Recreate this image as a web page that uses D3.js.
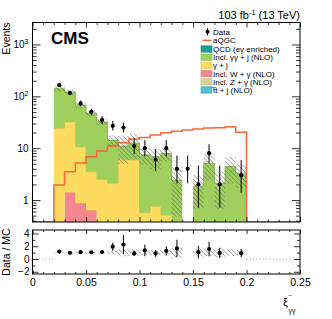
<!DOCTYPE html>
<html>
<head>
<meta charset="utf-8"/>
<script src="https://d3js.org/d3.v7.min.js"></script>
<style>
  body { margin:0; background:#fff; }
  text { font-family: "Liberation Sans", Arial, sans-serif; fill:#000; }
</style>
</head>
<body>
<script>
// bin edges in xi-
var binEdges = [0.02,0.03,0.04,0.05,0.06,0.07,0.08,0.09,0.10,0.11,0.12,0.13,0.14,0.15,0.16,0.17,0.18,0.19,0.20];

// stacked backgrounds (events per bin)
var qcd  = [0.1,0.1,0.1,0.1,0.1,0.1,0.1,0.1,0.1,0.1,0.1,0.1,0,0.1,0.1,0.1,0.1,0.1];
var ttj  = [0,0,0,0,0,0,0,0,0,0,0,0,0,0,0,0,0,0];
var zg   = [0,0,0,0,0,0,0,0,0,0,0,0,0,0,0,0,0,0];
var wg   = [0,1.3,0.77,0.53,0,0,0,0,0,0,0,0,0,0,0,0,0,0];
var gj   = [24,30.7,9.8,2.87,2.4,2.0,5.9,5.8,0.47,0.66,0.41,0,0,0,0,0,0,0];
var gg   = [115.9,87.9,57.3,43.5,29.5,11.9,5.0,6.6,6.83,6.04,7.39,2.3,0,1.76,5.0,2.0,4.3,3.2];
// relative MC uncertainty
var mcUnc = [0.12,0.12,0.12,0.12,0.12,0.25,0.55,0.5,0.35,0.42,0.3,0.8,0,0.63,0.53,0.68,0.53,0.48];

// signal
var aqgc = [1.95,3.5,5.2,6.8,8.8,11,12.7,15,16,18,19.8,21.3,22.3,23.3,24.4,24.7,25.8,20.2];

// data with error bar ends
var dataCounts = [164,116,73,50,35,27,25,11,10,6,10,4,4,2,8,2,0,3];
var dataLo = [151.3,105.4,64.6,43.0,29.2,21.9,20.1,7.7,6.9,3.6,6.9,2.1,2.1,0.71,5.2,0.71,0,1.37];
var dataHi = [178,128,82.6,58.1,41.9,33.3,31.0,15.4,14.3,9.6,14.3,7.2,7.2,4.64,11.9,4.64,0,5.92];
var ratioErr = [0.1,0.1,0.1,0.1,0.1,0.63,1.5,0.42,0.9,0.52,0.73,1.36,0,1.0,1.15,0.8,0,0.63];

var xMajor = [0,0.05,0.1,0.15,0.2,0.25];
var yMajor = [1,10,100,1000];
var rMajor = [-2,0,2,4];
var rMinor = [-1,1,3];

var legendNames = ["Data","aQGC","QCD (e\u03b3 enriched)","Incl. \u03b3\u03b3 + j (NLO)","\u03b3 + j",
                   "Incl. W + \u03b3 (NLO)","Incl. Z + \u03b3 (NLO)","t\u0305t + j (NLO)"];

var keys   = ["qcd","tt","zg","wg","gj","gg"];
var colors = {qcd:"#1d9c90", tt:"#55bfd2", zg:"#d9d193", wg:"#f3868f", gj:"#fddb5e", gg:"#9fcf5c"};
var legendKeys = ["qcd","gg","gj","wg","zg","tt"];

var L = 32.5, R = 300, T1 = 22.5, B1 = 222, T2 = 230, B2 = 274;

var svg = d3.select("body").append("svg").attr("width",332).attr("height",319);

var x  = d3.scaleLinear().domain([0,0.25]).range([L,R]);
var y  = d3.scaleLog().domain([0.377,2650]).range([B1,T1]);
var yr = d3.scaleLinear().domain([-2.35,4.55]).range([B2,T2]);
var yc = function(v){ return y(Math.max(v, y.domain()[0])); };

var defs = svg.append("defs");
defs.append("clipPath").attr("id","clipMain").append("rect")
  .attr("x",L).attr("y",T1).attr("width",R-L).attr("height",B1-T1);
defs.append("clipPath").attr("id","clipRatio").append("rect")
  .attr("x",L).attr("y",T2).attr("width",R-L).attr("height",B2-T2);
var pat = defs.append("pattern").attr("id","hatch").attr("patternUnits","userSpaceOnUse")
  .attr("width",3.2).attr("height",3.2).attr("patternTransform","rotate(-45)");
pat.append("line").attr("x1",0).attr("y1",0).attr("x2",0).attr("y2",3.2)
  .attr("stroke","#5a5a5a").attr("stroke-width",0.9);

// rows for stack
var rows = dataCounts.map(function(d,i){
  return {lo:binEdges[i], hi:binEdges[i+1], qcd:qcd[i], tt:ttj[i], zg:zg[i], wg:wg[i], gj:gj[i], gg:gg[i]};
});
var stacked = d3.stack().keys(keys)(rows);
var totals = rows.map(function(r){ return d3.sum(keys, function(k){ return r[k]; }); });

var main = svg.append("g").attr("clip-path","url(#clipMain)");

// stack fills
var area = d3.area().x(function(p){ return x(p.x); })
  .y0(function(p){ return yc(p.b); }).y1(function(p){ return yc(p.t); });
var line = d3.line().x(function(p){ return x(p.x); }).y(function(p){ return yc(p.t); })
  .defined(function(p){ return p.v > 0; });

stacked.forEach(function(s){
  var pts = [];
  s.forEach(function(d,i){
    var v = d[1]-d[0];
    pts.push({x:rows[i].lo, b:d[0], t:d[1], v:v});
    pts.push({x:rows[i].hi, b:d[0], t:d[1], v:v});
  });
  main.append("path").attr("d",area(pts)).attr("fill",colors[s.key]);
  main.append("path").attr("d",line(pts)).attr("fill","none")
    .attr("stroke",d3.color(colors[s.key]).darker(0.35)).attr("stroke-width",1);
});

// aQGC step line
var sig = [{x:x.domain()[0], t:0},{x:binEdges[0], t:0}];
aqgc.forEach(function(v,i){ sig.push({x:binEdges[i], t:v}); sig.push({x:binEdges[i+1], t:v}); });
sig.push({x:binEdges[binEdges.length-1], t:0}); sig.push({x:x.domain()[1], t:0});
main.append("path").attr("d", d3.line().x(function(p){return x(p.x);}).y(function(p){return yc(p.t);})(sig))
  .attr("fill","none").attr("stroke","#f2683a").attr("stroke-width",1.5);

// MC uncertainty hatch
main.selectAll("rect.unc").data(rows.filter(function(r,i){ return totals[i] > 0 && mcUnc[i] > 0; }))
  .enter().append("rect")
  .attr("x",function(r){ return x(r.lo); })
  .attr("width",function(r){ return x(r.hi)-x(r.lo); })
  .attr("y",function(r){ var i=rows.indexOf(r); return yc(totals[i]*(1+mcUnc[i])); })
  .attr("height",function(r){ var i=rows.indexOf(r); return yc(totals[i]*(1-mcUnc[i])) - yc(totals[i]*(1+mcUnc[i])); })
  .attr("fill","url(#hatch)");

// data points
var pts = dataCounts.map(function(d,i){ return {c:(binEdges[i]+binEdges[i+1])/2, n:d, lo:dataLo[i], hi:dataHi[i], i:i}; })
  .filter(function(p){ return p.n > 0; });
main.selectAll("line.err").data(pts).enter().append("line")
  .attr("x1",function(p){return x(p.c);}).attr("x2",function(p){return x(p.c);})
  .attr("y1",function(p){return yc(p.lo);}).attr("y2",function(p){return yc(p.hi);})
  .attr("stroke","#000").attr("stroke-width",1);
main.selectAll("circle.pt").data(pts).enter().append("circle")
  .attr("cx",function(p){return x(p.c);}).attr("cy",function(p){return y(p.n);})
  .attr("r",2.1).attr("fill","#000");

// ratio panel
var rat = svg.append("g").attr("clip-path","url(#clipRatio)");
[[x.domain()[0], binEdges[0]], [binEdges[binEdges.length-1], x.domain()[1]]].forEach(function(seg){
  rat.append("line").attr("x1",x(seg[0])).attr("x2",x(seg[1])).attr("y1",yr(0)).attr("y2",yr(0))
    .attr("stroke","#888").attr("stroke-width",0.8).attr("stroke-dasharray","1,2.3");
});
rat.selectAll("rect.unc").data(rows.filter(function(r,i){ return totals[i] > 0 && mcUnc[i] > 0; }))
  .enter().append("rect")
  .attr("x",function(r){ return x(r.lo); })
  .attr("width",function(r){ return x(r.hi)-x(r.lo); })
  .attr("y",function(r){ return yr(1+mcUnc[rows.indexOf(r)]); })
  .attr("height",function(r){ var u=mcUnc[rows.indexOf(r)]; return yr(1-u)-yr(1+u); })
  .attr("fill","url(#hatch)");
var rpts = pts.filter(function(p){ return totals[p.i] > 0; })
  .map(function(p){ return {c:p.c, r:p.n/totals[p.i], e:ratioErr[p.i]}; });
rat.selectAll("line.err").data(rpts).enter().append("line")
  .attr("x1",function(p){return x(p.c);}).attr("x2",function(p){return x(p.c);})
  .attr("y1",function(p){return yr(p.r-p.e);}).attr("y2",function(p){return yr(p.r+p.e);})
  .attr("stroke","#000").attr("stroke-width",1);
rat.selectAll("circle.pt").data(rpts).enter().append("circle")
  .attr("cx",function(p){return x(p.c);}).attr("cy",function(p){return yr(p.r);})
  .attr("r",2.1).attr("fill","#000");

// axes helper
function ax(gen, tx, ty, vals, size, fmt, pad){
  var g = svg.append("g").attr("transform","translate("+tx+","+ty+")")
    .call(gen.tickValues(vals).tickSize(-size).tickPadding(pad||3).tickFormat(fmt||function(){return "";}));
  g.select(".domain").remove();
  g.selectAll(".tick line").attr("stroke","#000").attr("stroke-width",0.8);
  g.selectAll("text").attr("font-family","Liberation Sans, Arial, sans-serif").attr("font-size",10.5);
  return g;
}
var xMinor = d3.range(0, 26).map(function(i){ return i/100; }).filter(function(v){ return xMajor.indexOf(Math.round(v*100)/100) < 0; });
var yAll = y.ticks();
var yMinor = yAll.filter(function(v){ return yMajor.indexOf(v) < 0; });

// main panel axes
ax(d3.axisBottom(x), 0, B1, xMajor, 5);
ax(d3.axisBottom(x), 0, B1, xMinor, 2.5);
ax(d3.axisTop(x), 0, T1, xMajor, 5);
ax(d3.axisTop(x), 0, T1, xMinor, 2.5);
var yl = ax(d3.axisLeft(y), L, 0, yMajor, 8, function(d){ return d < 100 ? String(d) : "10"; }, 4);
yl.selectAll(".tick text").attr("font-size",10).each(function(d){
  if (d >= 100) d3.select(this).append("tspan").attr("dy",-4).attr("font-size",7).text(Math.round(Math.log10(d)));
});
ax(d3.axisLeft(y), L, 0, yMinor, 4);
ax(d3.axisRight(y), R, 0, yMajor, 8);
ax(d3.axisRight(y), R, 0, yMinor, 4);

// ratio axes
ax(d3.axisBottom(x), 0, B2, xMajor, 4, function(d){ return String(d); }, 5);
ax(d3.axisBottom(x), 0, B2, xMinor, 2);
ax(d3.axisTop(x), 0, T2, xMajor, 4);
ax(d3.axisTop(x), 0, T2, xMinor, 2);
ax(d3.axisLeft(yr), L, 0, rMajor, 6, function(d){ return d < 0 ? "\u2212"+Math.abs(d) : String(d); }, 3)
  .selectAll(".tick text").attr("font-size",10);
ax(d3.axisLeft(yr), L, 0, rMinor, 3);
ax(d3.axisRight(yr), R, 0, rMajor, 6);
ax(d3.axisRight(yr), R, 0, rMinor, 3);

// frames
svg.append("rect").attr("x",L).attr("y",T1).attr("width",R-L).attr("height",B1-T1)
  .attr("fill","none").attr("stroke","#000").attr("stroke-width",1);
svg.append("rect").attr("x",L).attr("y",T2).attr("width",R-L).attr("height",B2-T2)
  .attr("fill","none").attr("stroke","#000").attr("stroke-width",1);

// titles
svg.append("text").attr("transform","translate(9.5,"+T1+") rotate(-90)").attr("text-anchor","end")
  .attr("font-size",10.5).text("Events");
svg.append("text").attr("transform","translate(9.5,"+((T2+B2)/2)+") rotate(-90)").attr("text-anchor","middle")
  .attr("font-size",10.5).text("Data / MC");
svg.append("text").attr("x",283).attr("y",306).attr("font-size",11).text("\u03be");
svg.append("text").attr("x",288.5).attr("y",298).attr("font-size",6.5).text("\u2212");
svg.append("text").attr("x",288.5).attr("y",313).attr("font-size",7).text("\u03b3\u03b3");

var hdr = svg.append("text").attr("x",R).attr("y",19).attr("text-anchor","end").attr("font-size",11);
hdr.append("tspan").text("103 fb");
hdr.append("tspan").attr("dy",-4).attr("font-size",7.5).text("-1");
hdr.append("tspan").attr("dy",4).text(" (13 TeV)");

svg.append("text").attr("x",51).attr("y",43.5).attr("font-size",17).attr("font-weight","bold").text("CMS");

// legend
var lg = svg.append("g");
legendNames.forEach(function(name,i){
  var cy = i < 2 ? 31.8 + i*8.6 : 49 + (i-2)*8.2;
  if (i === 0) {
    lg.append("line").attr("x1",207.5).attr("x2",207.5).attr("y1",cy-3.5).attr("y2",cy+3.5).attr("stroke","#000");
    lg.append("circle").attr("cx",207.5).attr("cy",cy).attr("r",2).attr("fill","#000");
  } else if (i === 1) {
    lg.append("line").attr("x1",202.5).attr("x2",211.5).attr("y1",cy).attr("y2",cy).attr("stroke","#f2683a").attr("stroke-width",1.5);
  } else {
    var k = legendKeys[i-2];
    lg.append("rect").attr("x",201).attr("y",cy-3.2).attr("width",11).attr("height",6.4)
      .attr("fill",colors[k]).attr("stroke",d3.color(colors[k]).darker(0.35)).attr("stroke-width",0.6);
  }
  lg.append("text").attr("x",213).attr("y",cy+2.9).attr("font-size",8).text(name);
});
</script>
</body>
</html>
